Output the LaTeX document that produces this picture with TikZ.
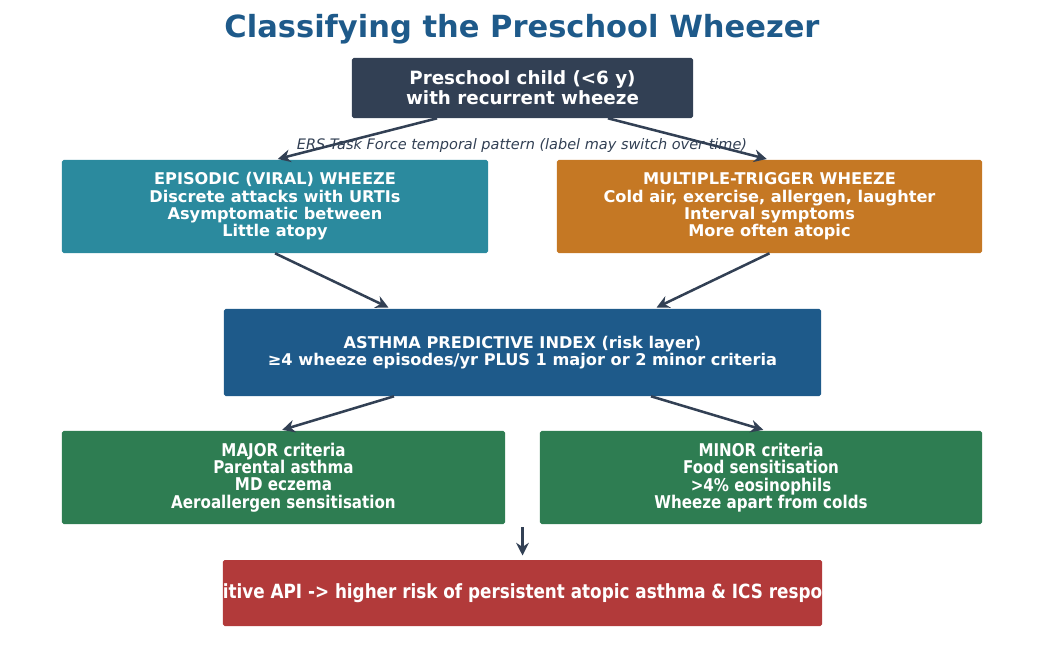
\documentclass[tikz,border=0pt]{standalone}
\usepackage{fontspec}
\setmainfont{DejaVu Sans}
\newfontfamily\narrowfont[FakeStretch=0.86]{DejaVu Sans}
\usetikzlibrary{arrows.meta, positioning, calc}
\definecolor{whzslate}{RGB}{50, 64, 84}
\definecolor{whzblue}{RGB}{30, 90, 138}
\definecolor{whzteal}{RGB}{43, 138, 158}
\definecolor{whzorange}{RGB}{197, 120, 36}
\definecolor{whzgreen}{RGB}{46, 125, 82}
\definecolor{whzred}{RGB}{178, 58, 58}
\begin{document}
\begin{tikzpicture}[x=0.025cm, y=-0.025cm,
    box/.style={rounded corners=1.2pt, text=white, align=center, inner sep=0pt,
                font=\bfseries\fontsize{11.5}{12.3}\selectfont},
    flow/.style={-{Stealth[length=9pt, width=9pt]}, line width=1.8pt,
                 draw=whzslate, shorten >=2pt}]
  \useasboundingbox (0,0) rectangle (1044,665);
  \node[whzblue, font=\bfseries\fontsize{21.7}{26}\selectfont] (title) at (522,29)
    {Classifying the Preschool Wheezer};
  \node[box, fill=whzslate, minimum width=8.525cm, minimum height=1.5cm,
        font=\bfseries\fontsize{13}{14.2}\selectfont] (child) at (522.5,88)
    {Preschool child (<6 y)\\with recurrent wheeze};
  \node[whzslate, font=\itshape\fontsize{10.3}{12}\selectfont] (ers) at (522,146)
    {ERS Task Force temporal pattern (label may switch over time)};
  \node[box, fill=whzteal, minimum width=10.65cm, minimum height=2.325cm] (epi) at (275,206.5)
    {EPISODIC (VIRAL) WHEEZE\\Discrete attacks with URTIs\\Asymptomatic between\\Little atopy};
  \node[box, fill=whzorange, minimum width=10.625cm, minimum height=2.325cm] (multi) at (769.5,206.5)
    {MULTIPLE-TRIGGER WHEEZE\\Cold air, exercise, allergen, laughter\\Interval symptoms\\More often atopic};
  \node[box, fill=whzblue, minimum width=14.925cm, minimum height=2.175cm] (api) at (522.5,352.5)
    {ASTHMA PREDICTIVE INDEX (risk layer)\\≥4 wheeze episodes/yr PLUS 1 major or 2 minor criteria};
  \node[box, fill=whzgreen, minimum width=11.075cm, minimum height=2.325cm,
        font=\narrowfont\bfseries\fontsize{12.5}{12.3}\selectfont] (major) at (283.5,477.5)
    {MAJOR criteria\\Parental asthma\\MD eczema\\Aeroallergen sensitisation};
  \node[box, fill=whzgreen, minimum width=11.05cm, minimum height=2.325cm,
        font=\narrowfont\bfseries\fontsize{12.5}{12.3}\selectfont] (minor) at (761,477.5)
    {MINOR criteria\\Food sensitisation\\>4\% eosinophils\\Wheeze apart from colds};
  \node[box, fill=whzred, minimum width=14.925cm, minimum height=1.65cm,
        font=\narrowfont\bfseries\fontsize{13.9}{15}\selectfont] (risk) at (522.5,593)
    {itive API -> higher risk of persistent atopic asthma \& ICS respo};
  \coordinate (gap) at (522.5,527);
  % connectors
  \draw[flow] ($(child.south west)!0.25!(child.south east)$) -- (epi.north);
  \draw[flow] ($(child.south west)!0.75!(child.south east)$) -- (multi.north);
  \draw[flow] (epi.south) -- ($(api.north west)!0.28!(api.north east)$);
  \draw[flow] (multi.south) -- ($(api.north west)!0.72!(api.north east)$);
  \draw[flow] ($(api.south west)!0.285!(api.south east)$) -- ($(major.north)+(-4,0)$);
  \draw[flow] ($(api.south west)!0.715!(api.south east)$) -- ($(minor.north)+(5,0)$);
  \draw[flow, shorten >=3pt] (gap) -- (risk.north);
\end{tikzpicture}
\end{document}
